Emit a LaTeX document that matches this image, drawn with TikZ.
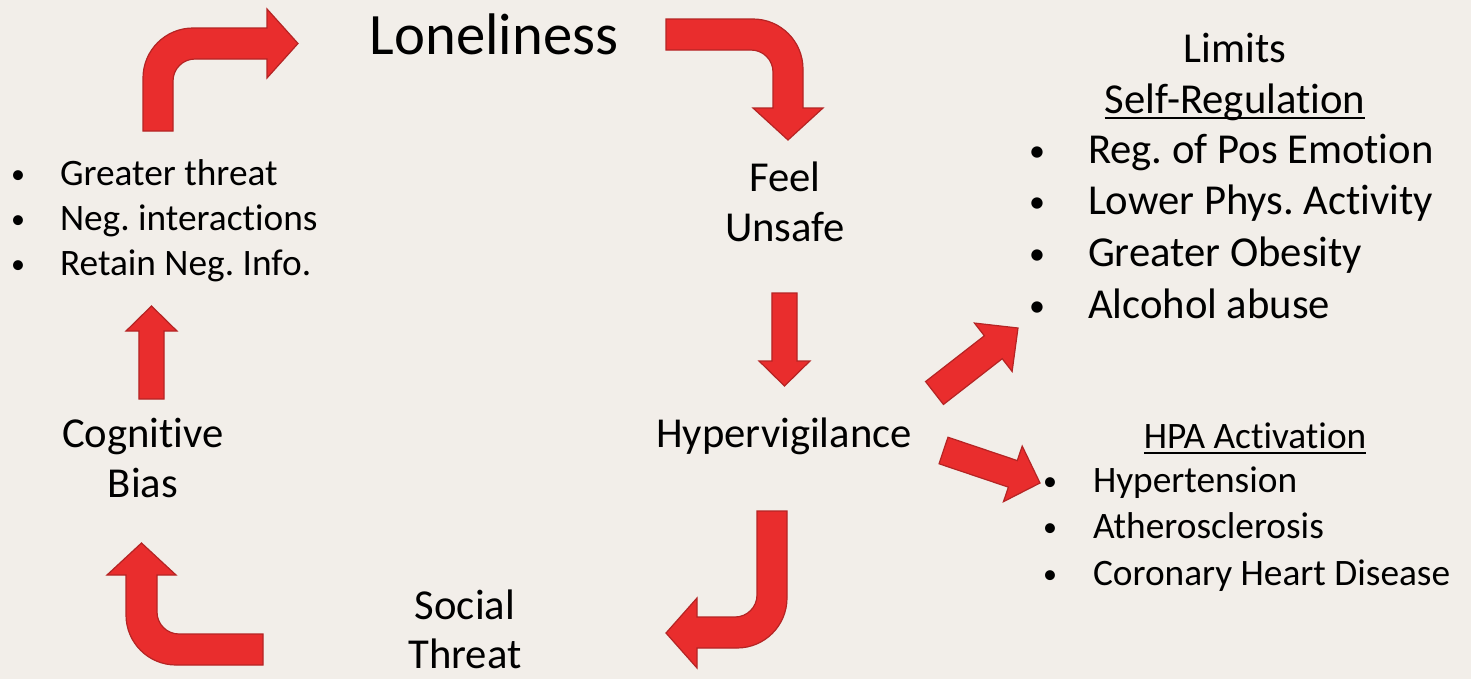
\documentclass[tikz,border=0pt]{standalone}
\usepackage{fontspec}
\setmainfont{Carlito}[Ligatures=NoCommon]
\usetikzlibrary{calc}
\frenchspacing
\definecolor{arrowred}{HTML}{E92D2D}
\definecolor{arrowedge}{HTML}{B52424}
\definecolor{slidebg}{HTML}{F2EEE9}
\newcommand\ulined[1]{\setbox0=\hbox{#1}\rlap{\rule[-4.5pt]{\wd0}{1.5pt}}\box0}
\newcommand\bitem[2]{\makebox[#1][l]{\makebox[0pt]{\raisebox{1.5pt}{\scalebox{0.75}{\textbullet}}}}#2}
\newcommand\blockarrow[5]{%
  \coordinate (hb) at ($(#2)!#5!(#1)$);
  \draw[blockarrow] ($(#1)!#3!90:(#2)$) -- ($(hb)!#3!90:(#2)$) -- ($(hb)!#4!90:(#2)$) -- (#2)
    -- ($(hb)!#4!-90:(#2)$) -- ($(hb)!#3!-90:(#2)$) -- ($(#1)!#3!-90:(#2)$) -- cycle;}
\begin{document}
\begin{tikzpicture}[x=0.75pt,y=-0.75pt,inner sep=0pt,outer sep=0pt,
blockarrow/.style={fill=arrowred,draw=arrowedge,line width=0.9pt,line join=miter},
lbl/.style={anchor=base,font=\fontsize{32}{38.4}\selectfont},
lst/.style={anchor=base west,font=\fontsize{28}{34}\selectfont}]

\path[use as bounding box,fill=slidebg] (0,0) rectangle (1471,679);

\node[lbl,font=\fontsize{44}{52.8}\selectfont] (lonely) at (494,54) {Loneliness};
\node[lbl] (feel) at (785,191) {Feel};
\node[lbl] (unsafe) at (785,241) {Unsafe};
\node[lbl] (hyper) at (784,447) {Hypervigilance};
\node[lbl] (social) at (465,619) {Social};
\node[lbl] (threat) at (465,668) {Threat};
\node[lbl] (cog) at (143,447) {Cognitive};
\node[lbl] (bias) at (143,497) {Bias};

\node[lbl] (limits) at (1235,62) {Limits};
\node[lbl] (selfreg) at (1235,113) {\ulined{Self-Regulation}};
\node[lst,font=\fontsize{32}{38.8}\selectfont] (selflist) at (1037,163) {\begin{tabular}[t]{@{}l@{}}
\bitem{38.25pt}{Reg. of Pos Emotion}\\
\bitem{38.25pt}{Lower Phys. Activity}\\
\bitem{38.25pt}{Greater Obesity}\\
\bitem{38.25pt}{Alcohol abuse}
\end{tabular}};

\node[lbl,font=\fontsize{28}{34}\selectfont] (hpa) at (1255,448) {\ulined{HPA Activation}};
\node[lst,font=\fontsize{28}{34.9}\selectfont] (hpalist) at (1050,492) {\begin{tabular}[t]{@{}l@{}}
\bitem{32.25pt}{Hypertension}\\
\bitem{32.25pt}{Atherosclerosis}\\
\bitem{32.25pt}{Coronary Heart Disease}
\end{tabular}};

\node[lst,font=\fontsize{28}{34.1}\selectfont] (biaslist) at (18,185) {\begin{tabular}[t]{@{}l@{}}
\bitem{31.5pt}{Greater threat}\\
\bitem{31.5pt}{Neg. interactions}\\
\bitem{31.5pt}{Retain Neg. Info.}
\end{tabular}};

\draw[blockarrow] (143,131) -- (143,78) arc[start angle=180,end angle=270,radius=50] -- (267,28) -- (267,9) -- (298,43.5)
  -- (267,78) -- (267,59) -- (195,59) arc[start angle=270,end angle=180,radius=22] -- (173,131) -- cycle;
\draw[blockarrow] (666,19) -- (753,19) arc[start angle=270,end angle=360,radius=50] -- (803,108) -- (823,108) -- (788,140)
  -- (753,108) -- (773,108) -- (773,72) arc[start angle=0,end angle=-90,radius=22] -- (666,50) -- cycle;
\draw[blockarrow] (787,511) -- (787,598) arc[start angle=0,end angle=90,radius=50] -- (697,648) -- (697,668) -- (666,633)
  -- (697,598) -- (697,617) -- (735,617) arc[start angle=90,end angle=0,radius=22] -- (757,511) -- cycle;
\draw[blockarrow] (263,665) -- (176,665) arc[start angle=90,end angle=180,radius=50] -- (126,575) -- (107,575) -- (141.5,543)
  -- (176,575) -- (157,575) -- (157,612) arc[start angle=180,end angle=90,radius=22] -- (263,634) -- cycle;

\coordinate (unsafe-s) at (784.5,293);
\coordinate (hyper-n) at (784.5,386);
\coordinate (cog-n) at (151.5,399);
\coordinate (biaslist-s) at (151.5,306);
\coordinate (hyper-ne) at (934.5,393);
\coordinate (selflist-w) at (1018,328);
\coordinate (hyper-e) at (943.5,450.5);
\coordinate (hpalist-w) at (1040,483);
\blockarrow{unsafe-s}{hyper-n}{9.4pt}{19.1pt}{18.75pt}
\blockarrow{cog-n}{biaslist-s}{9.4pt}{19.1pt}{18.75pt}
\blockarrow{hyper-ne}{selflist-w}{10.9pt}{23pt}{23.5pt}
\blockarrow{hyper-e}{hpalist-w}{10.5pt}{22pt}{21.5pt}
\end{tikzpicture}
\end{document}
